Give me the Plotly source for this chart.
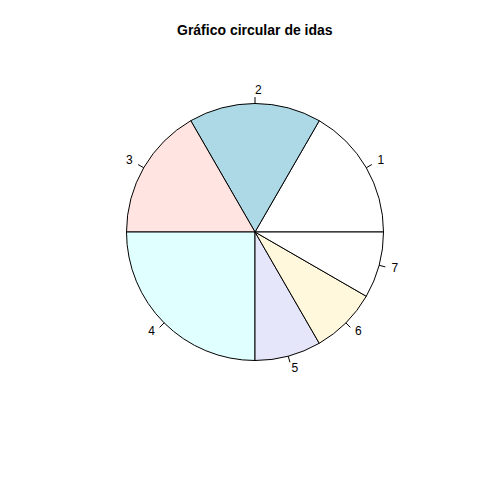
import plotly.graph_objects as go
import math

labels = ["1", "2", "3", "4", "5", "6", "7"]
values = [2, 2, 2, 3, 1, 1, 1]
colors = ["white", "lightblue", "mistyrose", "lightcyan", "lavender", "cornsilk", "white"]
title = "Gráfico circular de idas"

total = sum(values)
mids, widths = [], []
cum = 0
for v in values:
    widths.append(360 * v / total)
    mids.append(360 * (cum + v / 2) / total)
    cum += v

tick_r, tick_t = [], []
for m in mids:
    tick_r += [1.0, 1.05, None]
    tick_t += [m, m, None]
positions = ["middle right" if math.cos(math.radians(m)) > 0 else "middle left" for m in mids]

fig = go.Figure()
fig.add_trace(go.Barpolar(r=[1] * len(values), theta=mids, width=widths,
                          marker=dict(color=colors, line=dict(color="black", width=1)),
                          hoverinfo="skip", opacity=1))
fig.add_trace(go.Scatterpolar(r=tick_r, theta=tick_t, mode="lines",
                              line=dict(color="black", width=1), hoverinfo="skip"))
fig.add_trace(go.Scatterpolar(r=[1.1] * len(values), theta=mids, mode="text", text=labels,
                              textposition=positions,
                              textfont=dict(family="Liberation Sans", size=12, color="black"),
                              hoverinfo="skip"))

# page offset of 8px (body margin) accounted for
off = 8
R = 128.5
rmax = 1.3
half = R * rmax
cx, cy = 255 - off, 480 - (232 - off)
fig.update_layout(
    width=480, height=480, margin=dict(l=0, r=0, t=0, b=0),
    paper_bgcolor="white", plot_bgcolor="white", showlegend=False,
    polar=dict(
        domain=dict(x=[(cx - half) / 480, (cx + half) / 480], y=[(cy - half) / 480, (cy + half) / 480]),
        bgcolor="white",
        radialaxis=dict(range=[0, rmax], visible=False, showgrid=False),
        angularaxis=dict(visible=False, showgrid=False, direction="counterclockwise", rotation=0),
        bargap=0,
    ),
    annotations=[dict(text="<b>" + title + "</b>", x=(255 - off) / 480, y=1 - (30 - off) / 480,
                      xref="paper", yref="paper",
                      xanchor="center", yanchor="middle", showarrow=False,
                      font=dict(family="Liberation Sans", size=14, color="black"))],
)
fig.write_html("out.html")
